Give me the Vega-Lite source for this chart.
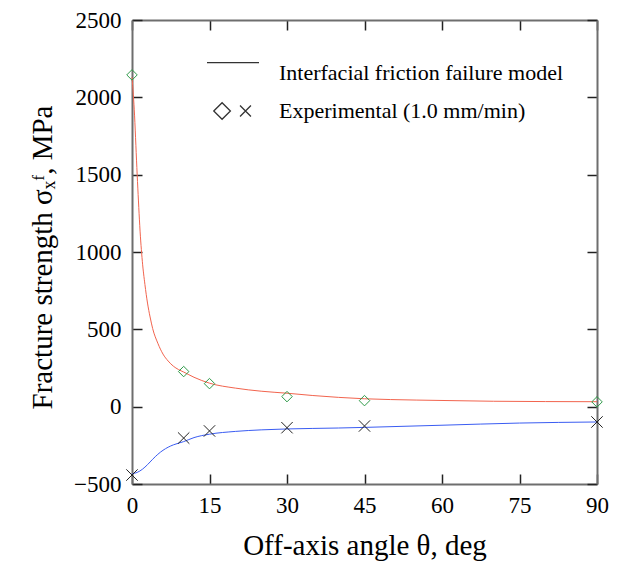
{
  "$schema": "https://vega.github.io/schema/vega-lite/v6.json",
  "width": 465,
  "height": 464,
  "autosize": "none",
  "padding": {"left": 132, "top": 20, "right": 24, "bottom": 77},
  "background": "white",
  "config": {
    "view": {"stroke": null},
    "font": "Liberation Serif",
    "axis": {
      "labelFont": "Liberation Serif",
      "titleFont": "Liberation Serif",
      "labelColor": "black",
      "titleColor": "black",
      "labelFontSize": 23,
      "titleFontSize": 29,
      "titleFontWeight": "normal",
      "domainColor": "#6e6e6e",
      "domainWidth": 2,
      "tickColor": "#222",
      "tickWidth": 1.5,
      "tickSize": -10,
      "labelFlush": false,
      "labelOverlap": false,
      "format": "d",
      "grid": false
    }
  },
  "datasets": {
    "curves": [
      {"theta": 0, "value": 2130, "series": "tension"},
      {"theta": 0.25, "value": 2020, "series": "tension"},
      {"theta": 0.5, "value": 1880, "series": "tension"},
      {"theta": 0.75, "value": 1690, "series": "tension"},
      {"theta": 1, "value": 1500, "series": "tension"},
      {"theta": 1.25, "value": 1330, "series": "tension"},
      {"theta": 1.5, "value": 1170, "series": "tension"},
      {"theta": 2, "value": 940, "series": "tension"},
      {"theta": 2.5, "value": 790, "series": "tension"},
      {"theta": 3, "value": 670, "series": "tension"},
      {"theta": 3.5, "value": 580, "series": "tension"},
      {"theta": 4, "value": 505, "series": "tension"},
      {"theta": 5, "value": 410, "series": "tension"},
      {"theta": 6, "value": 340, "series": "tension"},
      {"theta": 7, "value": 295, "series": "tension"},
      {"theta": 8, "value": 262, "series": "tension"},
      {"theta": 9, "value": 240, "series": "tension"},
      {"theta": 10, "value": 224, "series": "tension"},
      {"theta": 12, "value": 190, "series": "tension"},
      {"theta": 15, "value": 152, "series": "tension"},
      {"theta": 20, "value": 120, "series": "tension"},
      {"theta": 25, "value": 100, "series": "tension"},
      {"theta": 30, "value": 87, "series": "tension"},
      {"theta": 35, "value": 72, "series": "tension"},
      {"theta": 40, "value": 60, "series": "tension"},
      {"theta": 45, "value": 51, "series": "tension"},
      {"theta": 50, "value": 46, "series": "tension"},
      {"theta": 60, "value": 40, "series": "tension"},
      {"theta": 70, "value": 35, "series": "tension"},
      {"theta": 80, "value": 33, "series": "tension"},
      {"theta": 90, "value": 32, "series": "tension"},
      {"theta": 0, "value": -435, "series": "compression"},
      {"theta": 1, "value": -425, "series": "compression"},
      {"theta": 2, "value": -405, "series": "compression"},
      {"theta": 3, "value": -375, "series": "compression"},
      {"theta": 4, "value": -340, "series": "compression"},
      {"theta": 5, "value": -308, "series": "compression"},
      {"theta": 6, "value": -282, "series": "compression"},
      {"theta": 7, "value": -262, "series": "compression"},
      {"theta": 8, "value": -247, "series": "compression"},
      {"theta": 10, "value": -226, "series": "compression"},
      {"theta": 12, "value": -200, "series": "compression"},
      {"theta": 15, "value": -178, "series": "compression"},
      {"theta": 20, "value": -160, "series": "compression"},
      {"theta": 25, "value": -150, "series": "compression"},
      {"theta": 30, "value": -144, "series": "compression"},
      {"theta": 40, "value": -138, "series": "compression"},
      {"theta": 45, "value": -134, "series": "compression"},
      {"theta": 60, "value": -120, "series": "compression"},
      {"theta": 75, "value": -106, "series": "compression"},
      {"theta": 90, "value": -99, "series": "compression"}
    ],
    "points": [
      {"theta": 0, "value": 2145, "series": "tension"},
      {"theta": 10, "value": 227, "series": "tension"},
      {"theta": 15, "value": 149, "series": "tension"},
      {"theta": 30, "value": 65, "series": "tension"},
      {"theta": 45, "value": 39, "series": "tension"},
      {"theta": 90, "value": 31, "series": "tension"},
      {"theta": 0, "value": -442, "series": "compression"},
      {"theta": 10, "value": -203, "series": "compression"},
      {"theta": 15, "value": -157, "series": "compression"},
      {"theta": 30, "value": -136, "series": "compression"},
      {"theta": 45, "value": -125, "series": "compression"},
      {"theta": 90, "value": -99, "series": "compression"}
    ]
  },
  "resolve": {"axis": {"x": "independent", "y": "independent"}},
  "layer": [
    {
      "data": {"name": "curves"},
      "mark": {"type": "line", "strokeWidth": 1, "interpolate": "monotone"},
      "encoding": {
        "x": {
          "field": "theta", "type": "quantitative",
          "scale": {"domain": [0, 90], "nice": false},
          "axis": {"values": [0, 15, 30, 45, 60, 75, 90], "format": "d", "labelFlush": false, "labelFontSize": 23, "titleFontSize": 29, "title": "Off-axis angle θ, deg", "titlePadding": 14, "labelPadding": 20}
        },
        "y": {
          "field": "value", "type": "quantitative",
          "scale": {"domain": [-500, 2500], "nice": false},
          "axis": {"values": [-500, 0, 500, 1000, 1500, 2000, 2500], "format": "d", "labelFlush": false, "labelFontSize": 23, "titleFontSize": 29, "title": "Fracture strength σₓᶠ, MPa", "labelPadding": 21, "titlePadding": 16, "titleY": 237}
        },
        "color": {"field": "series", "type": "nominal", "scale": {"domain": ["tension", "compression"], "range": ["#f2644e", "#3a5cf2"]}, "legend": null}
      }
    },
    {
      "data": {"name": "points"},
      "transform": [{"filter": "datum.series === 'tension'"}],
      "mark": {"type": "point", "shape": "diamond", "filled": false, "stroke": "#2e9a48", "strokeWidth": 1, "size": 110, "opacity": 1},
      "encoding": {
        "x": {"field": "theta", "type": "quantitative", "axis": {"orient": "top", "labels": false, "title": null, "values": [0, 15, 30, 45, 60, 75, 90]}},
        "y": {"field": "value", "type": "quantitative", "axis": {"orient": "right", "labels": false, "title": null, "values": [-500, 0, 500, 1000, 1500, 2000, 2500]}}
      }
    },
    {
      "data": {"name": "points"},
      "transform": [{"filter": "datum.series === 'compression'"}],
      "mark": {"type": "point", "shape": "M-1,-1L1,1M-1,1L1,-1", "filled": false, "stroke": "#222", "strokeWidth": 1, "size": 130, "opacity": 1},
      "encoding": {
        "x": {"field": "theta", "type": "quantitative", "axis": null},
        "y": {"field": "value", "type": "quantitative", "axis": null}
      }
    },
    {
      "data": {"name": "points"},
      "mark": {"type": "point", "filled": false, "opacity": 0},
      "encoding": {
        "x": {"field": "theta", "type": "quantitative", "axis": null},
        "y": {"field": "value", "type": "quantitative", "axis": null},
        "shape": {
          "datum": "Experimental (1.0 mm/min)",
          "scale": {
            "domain": ["Interfacial friction failure model", "Experimental (1.0 mm/min)"],
            "range": ["M-1,-0.4L1,-0.4", "M-0.74,0L-0.42,-0.32L-0.1,0L-0.42,0.32Z M0.27,-0.21L0.69,0.21M0.27,0.21L0.69,-0.21"]
          },
          "legend": {
            "orient": "none",
            "legendX": 74,
            "legendY": 26,
            "title": null,
            "padding": 0,
            "labelFont": "Liberation Serif",
            "labelFontSize": 22,
            "labelColor": "black",
            "labelOffset": 19,
            "labelLimit": 0,
            "symbolSize": 2704,
            "symbolStrokeColor": "#333",
            "symbolFillColor": "transparent",
            "symbolStrokeWidth": 1.3,
            "symbolOpacity": 1,
            "rowPadding": 0
          }
        }
      }
    }
  ]
}
